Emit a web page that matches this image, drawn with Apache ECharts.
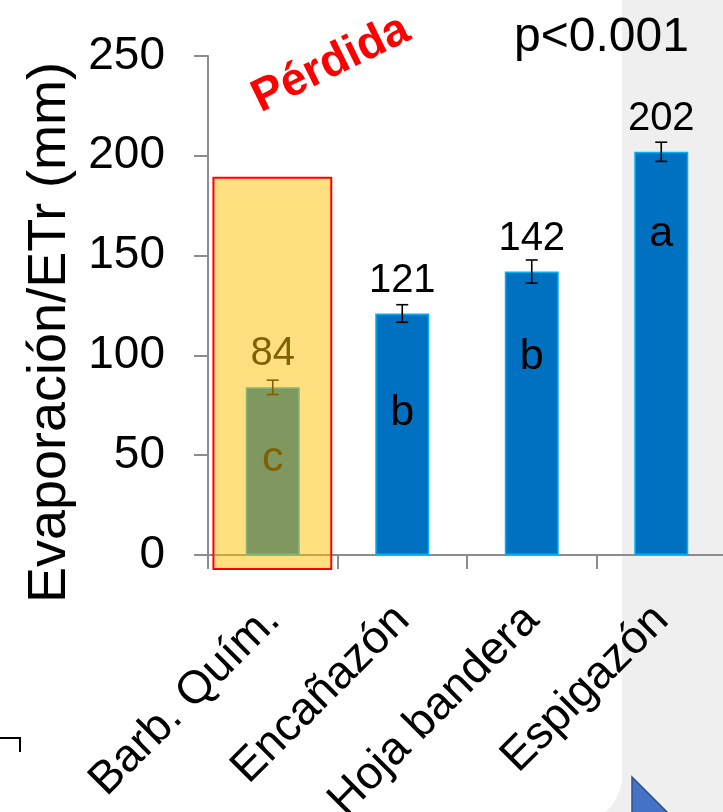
<!DOCTYPE html>
<html><head><meta charset="utf-8">
<script src="https://cdn.jsdelivr.net/npm/echarts@6/dist/echarts.min.js"></script>
<style>html,body{margin:0;padding:0;background:#fff}#c{width:723px;height:812px}</style>
</head><body><div id="c"></div>
<script>
// ---- data ----
const categories = ['Barb. Quím.', 'Encañazón', 'Hoja bandera', 'Espigazón'];
const values = [84, 121, 142, 202];
const errors = [3.6, 4.4, 5.8, 4.8];
const letters = ['c', 'b', 'b', 'a'];
const letterLevels = [48, 71, 99, 161];
const yMin = 0, yMax = 250, yStep = 50;
const lossRange = [-7, 189];          // y-extent of the "Pérdida" box over the first category
const pText = 'p<0.001';
const lossText = 'Pérdida';
const yName = 'Evaporación/ETr (mm)';

const FONT = '"Liberation Sans", Arial, sans-serif';
const chart = echarts.init(document.getElementById('c'), null, {renderer: 'canvas'});

chart.setOption({
  animation: false,
  backgroundColor: 'transparent',
  grid: {left: 208, top: 56, height: 499, width: 518, containLabel: false, outerBoundsMode: 'none'},
  xAxis: {
    type: 'category', data: categories,
    axisLine: {lineStyle: {color: '#8c8c8c', width: 2}},
    axisTick: {show: true, length: 14, alignWithLabel: false, lineStyle: {color: '#8c8c8c', width: 2}},
    axisLabel: {rotate: 45, interval: 0, margin: 58, color: '#000', fontSize: 46, fontFamily: FONT}
  },
  yAxis: {
    type: 'value', min: yMin, max: yMax, interval: yStep,
    name: yName, nameLocation: 'middle', nameGap: 131,
    nameTextStyle: {fontSize: 54, color: '#000', fontFamily: FONT, padding: [0, 54, 0, 0]},
    axisLine: {show: true, lineStyle: {color: '#8c8c8c', width: 2}},
    axisTick: {show: true, length: 14, lineStyle: {color: '#8c8c8c', width: 2}},
    splitLine: {show: false},
    axisLabel: {margin: 43, color: '#000', fontSize: 46, fontFamily: FONT}
  },
  series: [
    {
      type: 'bar', data: values, barWidth: 54, z: 2,
      itemStyle: {color: '#0070C0', borderColor: '#00B0F0', borderWidth: 1.5},
      label: {show: true, position: 'top', distance: 13, color: '#000', fontSize: 40, fontFamily: FONT}
    },
    {
      type: 'custom', z: 3,
      data: values.map((v, i) => [i, v, errors[i]]),
      renderItem(params, api) {
        const i = api.value(0), v = api.value(1), e = api.value(2);
        const t = api.coord([i, v + e]), b = api.coord([i, v - e]);
        const w = 6, st = {stroke: '#000', lineWidth: 1.6};
        return {type: 'group', children: [
          {type: 'line', shape: {x1: t[0], y1: t[1], x2: b[0], y2: b[1]}, style: st},
          {type: 'line', shape: {x1: t[0] - w, y1: t[1], x2: t[0] + w, y2: t[1]}, style: st},
          {type: 'line', shape: {x1: b[0] - w, y1: b[1], x2: b[0] + w, y2: b[1]}, style: st}
        ]};
      }
    },
    {
      type: 'custom', z: 4,
      data: letterLevels.map((v, i) => [i, v]),
      renderItem(params, api) {
        const p = api.coord([api.value(0), api.value(1)]);
        return {type: 'text', x: p[0], y: p[1], style: {
          text: letters[params.dataIndex], fill: '#000', fontSize: 43, fontFamily: FONT,
          align: 'center', verticalAlign: 'middle'}};
      }
    }
  ]
});

const c0 = chart.convertToPixel({xAxisIndex: 0}, categories[0]);
const c1 = chart.convertToPixel({xAxisIndex: 0}, categories[1]);
const bw = c1 - c0;
const yTop = chart.convertToPixel({yAxisIndex: 0}, lossRange[1]);
const yBot = chart.convertToPixel({yAxisIndex: 0}, lossRange[0]);
const bx = c0 - 0.458 * bw, bx2 = c0 + 0.452 * bw;

chart.setOption({
  graphic: [
    {type: 'rect', z: -100, shape: {x: 560, y: 0, width: 200, height: 812}, style: {fill: '#efefef'}},
    {type: 'rect', z: -99, shape: {x: -10, y: -50, width: 632, height: 875, r: [0, 0, 50, 0]}, style: {fill: '#fff'}},
    {type: 'polygon', z: 50, shape: {points: [[632, 777], [690, 835], [632, 835]]},
      style: {fill: '#4472C4', stroke: '#2F528F', lineWidth: 1.5}},
    {type: 'polyline', z: 50, shape: {points: [[0, 738], [20, 738], [20, 752]]},
      style: {stroke: '#000', lineWidth: 2, fill: null}},
    {type: 'rect', z: 100, shape: {x: bx, y: yTop, width: bx2 - bx, height: yBot - yTop},
      style: {fill: 'rgba(255,192,0,0.5)', stroke: '#FF0000', lineWidth: 2}},
    {type: 'text', z: 100, x: 331, y: 64, rotation: 26 * Math.PI / 180,
      style: {text: lossText, fill: '#FF0000', fontSize: 46, fontWeight: 'bold', fontFamily: FONT,
        align: 'center', verticalAlign: 'middle'}},
    {type: 'text', z: 100, x: 514, y: 38,
      style: {text: pText, fill: '#000', fontSize: 48, fontFamily: FONT, align: 'left', verticalAlign: 'middle'}}
  ]
});
</script>
</body></html>
